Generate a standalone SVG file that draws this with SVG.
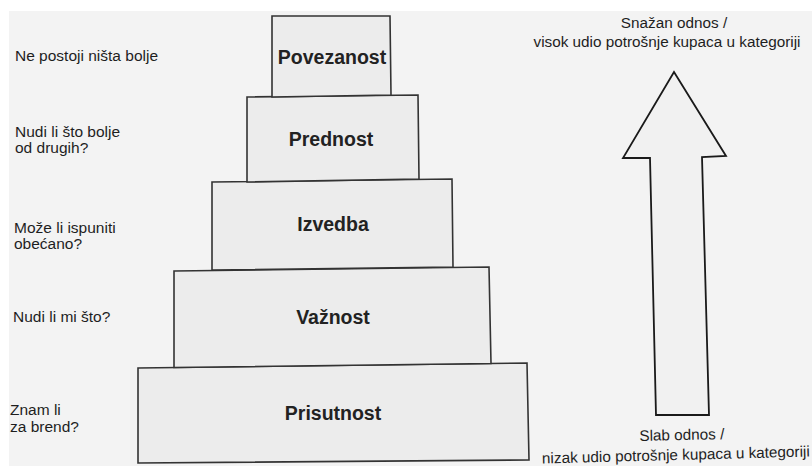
<svg xmlns="http://www.w3.org/2000/svg" width="812" height="466" viewBox="0 0 812 466">
<style>
.bg{fill:#f3f3f3}
.box{fill:#ececec;stroke:#333;stroke-width:1.6;stroke-linejoin:miter}
.arrow{fill:#f1f1f1;stroke:#1a1a1a;stroke-width:1.8}
.lbl{font-family:"Liberation Sans",Arial,sans-serif;font-size:19.5px;font-weight:bold;fill:#222;text-anchor:middle}
.q{font-family:"Liberation Sans",Arial,sans-serif;font-size:15.5px;fill:#1e1e1e}
.r{font-family:"Liberation Sans",Arial,sans-serif;font-size:15.3px;fill:#1e1e1e;text-anchor:middle}
</style>
<rect width="812" height="466" fill="#ffffff"/>
<rect class="bg" x="9" y="11" width="803" height="455"/>
<g id="prisutnost">
<polygon class="box" points="138,368 527,363 529,460 138,463"/>
<text class="lbl" x="333" y="420">Prisutnost</text>
</g>
<g id="vaznost">
<polygon class="box" points="174,271 489,267 491,363.5 174,367.5"/>
<text class="lbl" x="333" y="324">Važnost</text>
</g>
<g id="izvedba">
<polygon class="box" points="212,182 452,179 453,267 212,270"/>
<text class="lbl" x="333" y="231">Izvedba</text>
</g>
<g id="prednost">
<polygon class="box" points="247,97 418,95 419,179 247,182"/>
<text class="lbl" x="331" y="146">Prednost</text>
</g>
<g id="povezanost">
<polygon class="box" points="272,16 390,16 391,95 272,97"/>
<text class="lbl" x="332" y="64">Povezanost</text>
</g>
<g id="questions">
<text class="q" x="15" y="61">Ne postoji ništa bolje</text>
<text class="q" x="15" y="137">Nudi li što bolje</text>
<text class="q" x="15" y="153">od drugih?</text>
<text class="q" x="14" y="233">Može li ispuniti</text>
<text class="q" x="14" y="249">obećano?</text>
<text class="q" x="13" y="322">Nudi li mi što?</text>
<text class="q" x="10" y="415">Znam li</text>
<text class="q" x="10" y="432">za brend?</text>
</g>
<g id="connectors">
<polygon class="arrow" points="674,72 726,156 702,157 709,415 656,415 650,158 623,158"/>
</g>
<g id="top-label">
<text class="r" x="674" y="28">Snažan odnos /</text>
<text class="r" x="667" y="47">visok udio potrošnje kupaca u kategoriji</text>
</g>
<g id="bottom-label">
<text class="r" x="682" y="440" transform="rotate(-1.2 682 440)">Slab odnos /</text>
<text class="r" x="676" y="460" transform="rotate(-1.5 676 460)">nizak udio potrošnje kupaca u kategoriji</text>
</g>
</svg>
